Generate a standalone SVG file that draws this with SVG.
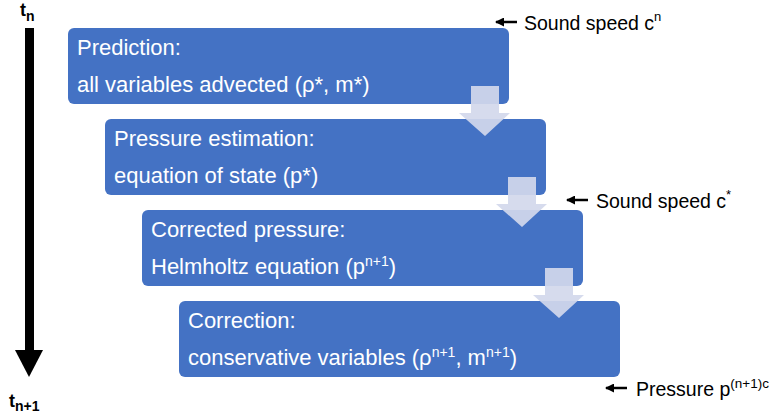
<svg xmlns="http://www.w3.org/2000/svg" width="769" height="416" viewBox="0 0 769 416">
<style>
.box{fill:#4472C4;}
.bt{font-family:"Liberation Sans",Arial,sans-serif;font-size:22px;fill:#ffffff;}
.lt{font-family:"Liberation Sans",Arial,sans-serif;font-size:19.5px;fill:#000000;}
.tt{font-family:"Liberation Sans",Arial,sans-serif;font-weight:bold;fill:#000000;}
.blk{fill:#d2d8ec;fill-opacity:0.92;}
.sm{stroke:#000;stroke-width:2.5;fill:none;}
</style>
<defs>
<marker id="ah" markerWidth="9" markerHeight="9" refX="1" refY="4.5" orient="auto" markerUnits="userSpaceOnUse">
<path d="M9,0 L0,4.5 L9,9 Z" fill="#000"/>
</marker>
</defs>
<g id="timeline">
<rect x="25" y="28" width="9" height="324" fill="#000"/>
<path d="M15,350 L43,350 L29,377 Z" fill="#000"/>
<text class="tt" x="20" y="16" font-size="18">t<tspan font-size="14" dy="5">n</tspan></text>
<text class="tt" x="9" y="407" font-size="18">t<tspan font-size="14" dy="4">n+1</tspan></text>
</g>
<g id="n1">
<rect class="box" x="68" y="28" width="441" height="76" rx="6"/>
<text class="bt" x="77" y="55">Prediction:</text>
<text class="bt" x="77" y="92">all variables advected (ρ*, m*)</text>
</g>
<g id="n2">
<rect class="box" x="105" y="119" width="441" height="76" rx="6"/>
<text class="bt" x="114" y="146">Pressure estimation:</text>
<text class="bt" x="114" y="183">equation of state (p*)</text>
</g>
<g id="n3">
<rect class="box" x="142" y="210" width="441" height="76" rx="6"/>
<text class="bt" x="151" y="237">Corrected pressure:</text>
<text class="bt" x="151" y="274">Helmholtz equation (p<tspan font-size="14" dy="-8">n+1</tspan><tspan dy="8">)</tspan></text>
</g>
<g id="n4">
<rect class="box" x="179" y="301" width="441" height="76" rx="6"/>
<text class="bt" x="188" y="328">Correction:</text>
<text class="bt" x="188" y="365">conservative variables (ρ<tspan font-size="14" dy="-8">n+1</tspan><tspan dy="8">, m</tspan><tspan font-size="14" dy="-8">n+1</tspan><tspan dy="8">)</tspan></text>
</g>
<g id="connectors">
<path class="blk" d="M471,86 L499,86 L499,113 L510,113 L485,136 L459,113 L471,113 Z"/>
<path class="blk" d="M508,177 L536,177 L536,204 L547,204 L522,227 L496,204 L508,204 Z"/>
<path class="blk" d="M545,268 L573,268 L573,295 L584,295 L559,318 L533,295 L545,295 Z"/>
<line class="sm" x1="496" y1="22" x2="517" y2="22" marker-start="url(#ah)"/>
<line class="sm" x1="567" y1="200" x2="588" y2="200" marker-start="url(#ah)"/>
<line class="sm" x1="606" y1="388" x2="627" y2="388" marker-start="url(#ah)"/>
</g>
<g id="labels">
<text class="lt" x="524" y="30">Sound speed c<tspan font-size="13" dy="-9">n</tspan></text>
<text class="lt" x="596" y="208">Sound speed c<tspan font-size="13" dy="-9">*</tspan></text>
<text class="lt" x="636" y="396" font-size="16.5">Pressure p<tspan font-size="13.5" dy="-8">(n+1)c</tspan></text>
</g>
</svg>
